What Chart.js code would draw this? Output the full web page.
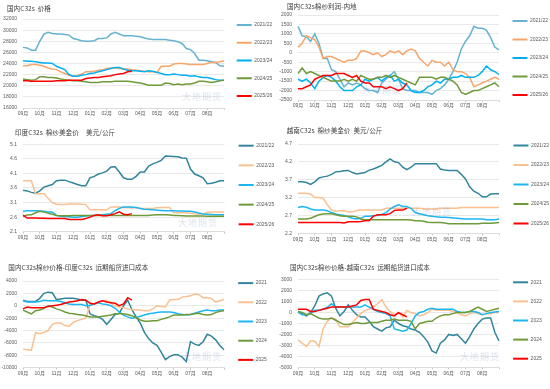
<!DOCTYPE html>
<html><head><meta charset="utf-8">
<script src="https://cdn.jsdelivr.net/npm/chart.js@4.4.1/dist/chart.umd.min.js"></script>
<style>
html,body{margin:0;padding:0;background:#fff;}
body{width:550px;height:389px;position:relative;overflow:hidden;}
canvas{position:absolute;}
.wm{position:absolute;font-family:'Noto Sans CJK SC',sans-serif;font-size:9px;color:rgba(110,140,190,0.25);white-space:nowrap;letter-spacing:1px;}
</style></head><body>
<canvas id="c1"></canvas><canvas id="c2"></canvas><canvas id="c3"></canvas>
<canvas id="c4"></canvas><canvas id="c5"></canvas><canvas id="c6"></canvas>
<div class="wm" style="left:182px;top:90px">大地期货</div>
<div class="wm" style="left:362px;top:83px">大地期货</div>
<div class="wm" style="left:178px;top:216px">大地期货</div>
<div class="wm" style="left:412px;top:205px">大地期货</div>
<div class="wm" style="left:182px;top:350px">大地期货</div>
<div class="wm" style="left:460px;top:350px">大地期货</div>
<script>
// ---------- categories & labels ----------
const months = ['09月','10月','11月','12月','01月','02月','03月','04月','05月','06月','07月','08月'];
const pointsPerMonth = 4;
const seasons = ['2021/22','2022/23','2023/24','2024/25','2025/26'];
const years = ['2021','2022','2023','2024','2025'];

// ---------- tick values ----------
const ticksP1 = [16000,18000,20000,22000,24000,26000,28000,30000,32000];
const ticksP2 = [-2500,-2000,-1500,-1000,-500,0,500,1000,1500,2000];
const ticksP3 = [2.1,2.6,3.1,3.6,4.1,4.6,5.1];
const ticksP4 = [2.2,2.7,3.2,3.7,4.2,4.7];
const ticksP5 = [-10000,-8000,-6000,-4000,-2000,0,2000,4000];
const ticksP6 = [-5000,-4000,-3000,-2000,-1000,0,1000,2000,3000];

// ---------- panel 1: 国内C32s 价格 ----------
const p1_2122 = [26900,26800,26400,26400,28000,29300,29600,29400,29300,29300,29200,29100,28500,28300,28100,28000,28000,28100,28500,28500,28600,29300,29600,29300,29000,29000,29000,28900,28800,28600,28400,28300,28300,28300,28300,28200,28100,27900,27600,26700,26500,25800,24600,24600,24500,24300,24200,23600,23500];
const p1_2223 = [23600,23600,23800,23800,23700,23500,23200,23000,22900,22500,22200,21900,21700,21800,22100,22500,22500,22600,22800,22900,23100,23200,23200,23100,23000,23000,22900,22800,22700,22600,22500,22500,22400,23500,23500,23500,23900,24000,24000,23900,23800,23800,23800,23800,24000,24200,24200,24300,24500];
const p1_2324 = [24500,24400,24400,24300,24200,24100,24100,24000,23500,23200,22900,22000,21700,21700,21900,22000,22200,22300,22500,22700,22900,23100,23300,23300,23000,22800,22700,22700,22600,22500,22700,22600,22400,22200,22000,22000,22100,22000,21900,21900,21700,21800,21600,21500,21500,21300,21100,21000,21000];
const p1_2425 = [21200,21100,21000,21100,21600,21600,21500,21500,21400,21200,21100,21000,20900,20900,20800,20700,20600,20600,20600,20700,20700,20700,20800,20800,20800,20800,20700,20600,20500,20300,20100,20100,20100,20100,20500,20400,20200,20300,20200,20300,20300,20500,20800,20800,20700,20600,20700,20900,21000];
const p1_2526 = [20900,20900,20800,20800,20800,20800,20800,20800,20900,20900,20900,21000,21000,21000,21000,21300,21400,21500,21500,21600,21700,21800,22000,22100,22200,22500,22600];

// ---------- panel 2: 国内C32s棉纱利润-内地 ----------
const p2_2122 = [1400,900,850,600,1000,500,-300,-300,-900,-1000,-1400,-1800,-1600,-1700,-1600,-1700,-1900,-2000,-2000,-2100,-1600,-1400,-1200,-1000,-1400,-1900,-2000,-2000,-2000,-2100,-2100,-2100,-2200,-2000,-1900,-1700,-1400,-1000,-500,200,600,900,1400,1300,1300,1200,800,300,150];
const p2_2223 = [300,500,900,800,700,300,-300,-200,-200,-300,-400,-500,-400,-400,-300,100,100,0,-100,0,-200,-100,100,0,100,-100,100,200,100,-300,-500,-700,-400,-500,-500,-700,-500,-900,-1000,-1000,-1100,-1300,-1800,-1700,-1600,-1500,-1400,-1300,-1400];
const p2_2324 = [-1400,-1500,-1400,-1600,-1900,-1500,-1300,-1200,-1300,-1500,-1800,-2000,-2000,-2000,-1800,-1700,-1400,-1500,-1400,-1300,-1500,-1300,-1200,-1500,-1400,-1600,-1700,-2000,-2100,-2100,-2000,-1800,-1700,-1500,-1600,-1400,-1400,-1300,-1300,-1200,-1300,-1300,-1300,-1200,-1000,-700,-900,-1000,-1150];
const p2_2425 = [-1100,-800,-1100,-1000,-1100,-1200,-1300,-1400,-1500,-1500,-1500,-1400,-1500,-1400,-1500,-1200,-1300,-1400,-1400,-1300,-1300,-1200,-1300,-1200,-1300,-1400,-1500,-1600,-1700,-1300,-1300,-1300,-1300,-1400,-1300,-1300,-1400,-1500,-1700,-2100,-2200,-2100,-2000,-2000,-1900,-1800,-1700,-1600,-1800];
const p2_2526 = [-1900,-1900,-1800,-1700,-1400,-1300,-1200,-1200,-1200,-1100,-1100,-1100,-1200,-1300,-1200,-1500,-1600,-1600,-1800,-1800,-1800,-1900,-1800,-1900,-2000,-1900,-1600];

// ---------- panel 3: 印度C32s 棉纱美金价 ----------
const p3_2122 = [3.52,3.5,3.45,3.42,3.5,3.63,3.68,3.72,3.85,3.87,3.87,3.82,3.77,3.72,3.68,3.68,3.95,4.0,4.08,4.12,4.18,4.32,4.33,4.15,3.95,3.9,3.9,4.0,4.15,4.15,4.35,4.43,4.48,4.55,4.7,4.69,4.68,4.67,4.63,4.62,4.25,4.08,4.02,3.95,3.75,3.76,3.8,3.85,3.85];
const p3_2223 = [3.85,3.85,3.85,3.4,3.4,3.4,3.25,3.1,3.04,3.03,3.03,3.05,3.05,3.05,3.04,3.03,2.85,2.85,2.85,2.85,2.85,2.95,2.95,2.95,2.93,2.92,2.92,2.92,2.9,2.9,2.9,2.9,2.92,2.93,2.93,2.93,2.75,2.75,2.75,2.75,2.73,2.72,2.7,2.72,2.76,2.78,2.78,2.78,2.78];
const p3_2324 = [2.8,2.82,2.82,2.82,2.81,2.8,2.78,2.78,2.66,2.63,2.62,2.61,2.6,2.6,2.62,2.64,2.65,2.66,2.67,2.68,2.7,2.72,2.82,2.9,2.95,2.95,2.95,2.93,2.9,2.87,2.86,2.85,2.84,2.83,2.82,2.82,2.82,2.81,2.81,2.8,2.8,2.78,2.74,2.71,2.7,2.69,2.68,2.68,2.68];
const p3_2425 = [2.63,2.67,2.68,2.75,2.8,2.78,2.73,2.7,2.66,2.65,2.65,2.65,2.66,2.66,2.66,2.66,2.66,2.66,2.66,2.66,2.66,2.66,2.66,2.66,2.66,2.66,2.66,2.66,2.66,2.66,2.66,2.67,2.68,2.68,2.68,2.67,2.66,2.66,2.65,2.64,2.64,2.64,2.64,2.64,2.63,2.63,2.63,2.63,2.63];
const p3_2526 = [2.67,2.57,2.57,2.57,2.56,2.56,2.55,2.55,2.55,2.55,2.55,2.52,2.52,2.52,2.52,2.55,2.6,2.66,2.68,2.65,2.65,2.68,2.72,2.78,2.7,2.68,2.72];

// ---------- panel 4: 越南C32s 棉纱美金价 ----------
const p4_2122 = [3.64,3.64,3.62,3.57,3.64,3.75,3.78,3.8,3.85,3.92,3.93,3.95,3.96,3.9,3.86,3.88,3.9,3.97,4.0,4.05,4.1,4.2,4.28,4.2,4.18,4.05,3.98,4.05,4.15,4.15,4.15,4.15,4.15,4.15,4.0,3.97,3.96,3.96,3.96,3.85,3.72,3.5,3.38,3.32,3.22,3.22,3.3,3.31,3.31];
const p4_2223 = [3.32,3.32,3.32,3.3,3.2,3.2,3.18,3.0,2.85,2.82,2.83,2.83,2.8,2.8,2.84,2.85,2.85,2.85,2.85,2.85,2.85,2.9,2.9,2.9,2.9,2.9,2.9,2.9,2.9,2.9,2.89,2.88,2.88,2.88,2.9,2.9,2.9,2.9,2.9,2.92,2.92,2.92,2.92,2.92,2.92,2.92,2.92,2.92,2.92];
const p4_2324 = [2.92,2.95,2.93,2.88,2.85,2.85,2.85,2.83,2.78,2.74,2.72,2.7,2.66,2.62,2.6,2.62,2.68,2.68,2.69,2.7,2.73,2.78,2.88,2.95,3.0,2.95,2.95,2.9,2.78,2.75,2.72,2.69,2.68,2.66,2.65,2.65,2.64,2.63,2.62,2.61,2.6,2.6,2.6,2.6,2.6,2.58,2.58,2.58,2.6];
const p4_2425 = [2.6,2.6,2.6,2.62,2.67,2.72,2.74,2.75,2.75,2.72,2.69,2.68,2.68,2.68,2.66,2.6,2.58,2.58,2.58,2.58,2.58,2.58,2.58,2.58,2.58,2.58,2.58,2.57,2.55,2.55,2.54,2.51,2.5,2.5,2.5,2.49,2.47,2.47,2.47,2.47,2.47,2.47,2.47,2.47,2.48,2.48,2.48,2.49,2.5];
const p4_2526 = [2.5,2.5,2.5,2.5,2.5,2.5,2.5,2.5,2.5,2.5,2.5,2.49,2.52,2.52,2.52,2.53,2.55,2.56,2.68,2.72,2.72,2.72,2.75,2.84,2.85,2.85,2.9];

// ---------- panel 5: 国内-印度 远期船货进口成本 ----------
const p5_2021 = [900,700,700,700,1200,2000,2200,2100,1000,1100,1200,1200,1200,1100,900,900,-1300,-1600,-1800,-2200,-3000,-2200,-1400,-1200,0,900,-600,-1800,-2800,-4300,-5300,-6000,-6400,-7500,-8700,-8200,-7900,-7900,-8300,-9000,-5800,-6200,-6400,-5800,-4600,-4900,-5500,-6400,-7100];
const p5_2022 = [-7000,-7100,-7200,-4300,-4500,-4300,-4000,-3000,-2800,-2800,-3200,-3300,-2700,-2400,-2200,-2000,100,300,500,800,900,400,0,-200,-300,-500,-600,-700,-700,-800,-800,-500,0,-100,-200,900,1000,1000,1400,1500,1600,1900,1800,1300,1300,1200,600,800,1000];
const p5_2023 = [800,600,600,600,700,900,800,800,800,700,500,300,200,200,200,0,100,300,500,300,200,0,-400,-1000,-1500,-1800,-2000,-1900,-1700,-1500,-1300,-1200,-1100,-1000,-1000,-1000,-1100,-1300,-1400,-1500,-1400,-1200,-1000,-800,-700,-800,-800,-700,-700];
const p5_2024 = [-700,-1000,-1300,-800,-700,-400,0,-200,-500,-700,-1000,-1200,-1300,-1400,-1500,-1600,-1800,-1800,-1800,-1700,-1600,-1500,-1300,-1300,-1300,-1400,-1600,-1900,-2300,-2500,-2500,-2400,-2400,-2200,-2000,-1800,-1500,-1500,-1500,-1400,-1400,-1300,-1200,-1400,-1500,-1400,-1100,-900,-800];
const p5_2025 = [-500,-200,-300,-300,-300,-300,-100,0,100,200,400,600,700,800,1000,900,400,300,600,800,600,500,400,0,300,1300,900];

// ---------- panel 6: 国内-越南 远期船货进口成本 ----------
const p6_2021 = [50,-100,-300,0,600,1500,1700,1800,1500,400,-300,100,700,200,-200,-400,-400,-800,-1300,-1500,-1700,-1400,-1300,-700,-1000,-1200,-1300,-1500,-1600,-1800,-2200,-2700,-3500,-3700,-2800,-2500,-2000,-2100,-2000,-2400,-2800,-2200,-1500,-1000,-600,-500,-500,-1800,-2600];
const p6_2022 = [-2500,-2800,-3100,-2600,-2600,-3100,-1500,-800,-500,-600,-1300,-1300,-1300,-900,-500,-100,200,300,500,800,1200,500,100,-200,0,-400,200,0,-100,-300,-200,0,300,200,200,200,200,100,0,-200,-300,-100,0,-100,-200,-100,-100,0,0];
const p6_2023 = [50,-200,-200,-100,200,200,300,500,800,500,500,500,500,500,500,500,700,500,300,100,0,-100,-300,-1500,-1600,-1700,-1600,-1000,-300,0,100,300,400,300,300,300,300,300,100,0,0,100,100,0,-200,-100,0,50,100];
const p6_2024 = [100,0,-200,-100,-300,-500,-600,-600,-500,-700,-900,-1100,-1100,-1000,-900,-1000,-1000,-900,-900,-900,-800,-700,-700,-600,-700,-700,-700,-800,-1500,-1000,-900,-800,-800,-500,-300,-200,-200,-100,0,0,0,100,300,500,300,100,200,300,400];
const p6_2025 = [300,300,300,100,100,200,300,400,500,500,500,500,500,600,700,1100,1200,1200,300,200,100,0,-200,-300,0,-200,-400];

// ---------- build ----------
const categories = [];
for (let i = 0; i <= months.length * pointsPerMonth; i++) {
  categories.push(i % pointsPerMonth === 0 && i / pointsPerMonth < months.length ? months[i / pointsPerMonth] : '');
}
const colorsTop = ['#66B2D0','#F7A66B','#00B0F0','#6F9A3A','#FF0000'];
const colorsLow = ['#31859C','#FAC090','#1CB6F0','#6F9A3A','#FF0000'];

Chart.defaults.font.family = "'Liberation Sans','Noto Sans CJK SC',sans-serif";
Chart.defaults.font.size = 5;
Chart.defaults.color = '#595959';

const panels = [
  {id:'c1', left:0,   top:0,   h:121, plotTop:19,    plotBottom:108,   titleC:8,     titleX:7,    pad:12.75, title:'国内C32s  价格', names:seasons, colors:colorsTop, ticks:ticksP1, dec:0,
   series:[p1_2122,p1_2223,p1_2324,p1_2425,p1_2526]},
  {id:'c2', left:275, top:0,   h:116, plotTop:15,    plotBottom:100,   titleC:6,     titleX:12,   pad:13.5, title:'国内C32s棉纱利润-内地', names:seasons, colors:colorsTop, ticks:ticksP2, dec:0,
   series:[p2_2122,p2_2223,p2_2324,p2_2425,p2_2526]},
  {id:'c3', left:0,   top:125, h:120, plotTop:144.3, plotBottom:231.7, titleC:132.3, titleX:15,   pad:14.65, title:'印度C32s  棉纱美金价     美元/公斤', names:seasons, colors:colorsLow, ticks:ticksP3, dec:1,
   series:[p3_2122,p3_2223,p3_2324,p3_2425,p3_2526]},
  {id:'c4', left:275, top:125, h:119, plotTop:144,   plotBottom:233.3, titleC:130.7, titleX:11.7, pad:14.5, title:'越南C32s  棉纱美金价  美元/公斤', names:seasons, colors:colorsLow, ticks:ticksP4, dec:1,
   series:[p4_2122,p4_2223,p4_2324,p4_2425,p4_2526]},
  {id:'c5', left:0,   top:255, h:133, plotTop:281,   plotBottom:367.7, titleC:267.7, titleX:8.3,  pad:14.2, title:'国内C32s棉纱价格-印度C32s  远期船货进口成本', names:years, colors:colorsLow, ticks:ticksP5, dec:0,
   series:[p5_2021,p5_2022,p5_2023,p5_2024,p5_2025]},
  {id:'c6', left:275, top:255, h:131, plotTop:279.7, plotBottom:367.3, titleC:267,   titleX:15,   pad:14.1, title:'国内C32s棉纱价格-越南C32s  远期船货进口成本', names:years, colors:colorsLow, ticks:ticksP6, dec:0,
   series:[p6_2021,p6_2022,p6_2023,p6_2024,p6_2025]},
];

const W = 274, LEGEND_W = 50, PLOT_LEFT = 23;
const titleSize = 6.6, titleLH = titleSize * 1.2;

// widen the y-axis label clip region into the left padding so labels are not cut
const widenYLabels = {
  id: 'widenYLabels',
  afterLayout(chart) { if (chart.scales.y) chart.scales.y.left = 0; }
};

panels.forEach(p => {
  const cv = document.getElementById(p.id);
  cv.width = W; cv.height = p.h;
  cv.style.left = p.left + 'px'; cv.style.top = p.top + 'px';
  const titleBox = p.plotTop - p.top;
  const tPadTop = (p.titleC - p.top) - titleLH / 2;
  const tPadBottom = titleBox - tPadTop - titleLH;
  const xH = p.top + p.h - p.plotBottom;
  const n = p.series.length;
  new Chart(cv, {
    type: 'line',
    plugins: [widenYLabels],
    data: {
      labels: categories,
      datasets: p.series.map((s, i) => ({
        label: p.names[i], data: s,
        borderColor: p.colors[i], backgroundColor: p.colors[i],
        borderWidth: 1.5, pointRadius: 0, tension: 0, fill: false,
        order: n - i
      }))
    },
    options: {
      responsive: false, animation: false, devicePixelRatio: 1,
      layout: {padding: {left: p.titleX, right: 0, top: 0, bottom: 0}},
      plugins: {
        tooltip: {enabled: false},
        title: {display: true, text: p.title, align: 'start', color: '#404040',
          font: {family: "'Noto Sans CJK SC',sans-serif", size: titleSize, weight: 'normal', lineHeight: 1.2},
          padding: {top: tPadTop, bottom: tPadBottom}},
        legend: {position: 'right', align: 'center', maxWidth: LEGEND_W,
          labels: {boxWidth: 15, boxHeight: 2, padding: p.pad, color: '#595959', font: {size: 5},
            sort: (a, b) => a.datasetIndex - b.datasetIndex,
            generateLabels: (chart) => Chart.defaults.plugins.legend.labels.generateLabels(chart)
              .map(l => Object.assign(l, {lineWidth: 0, fillStyle: l.strokeStyle}))}}
      },
      scales: {
        x: {
          type: 'category',
          grid: {display: true, drawOnChartArea: false, drawTicks: true, tickLength: 2,
            color: (c) => (c.index % pointsPerMonth === 0 ? '#c8c8c8' : 'rgba(0,0,0,0)')},
          border: {display: true, color: '#d9d9d9', width: 0.8},
          ticks: {autoSkip: false, maxRotation: 0, minRotation: 0, padding: 1, color: '#595959', font: {size: 5}},
          afterFit: (s) => { s.height = xH; }
        },
        y: {
          min: p.ticks[0], max: p.ticks[p.ticks.length - 1],
          grid: {color: '#e3e3e3', lineWidth: 0.8, drawTicks: false},
          border: {display: false},
          ticks: {padding: 6, color: '#595959', font: {size: 5},
            callback: (v) => Number(v).toFixed(p.dec)},
          afterBuildTicks: (s) => { s.ticks = p.ticks.map(v => ({value: v})); },
          afterFit: (s) => { s.width = PLOT_LEFT - p.titleX; }
        }
      }
    }
  });
});
</script>
</body></html>
